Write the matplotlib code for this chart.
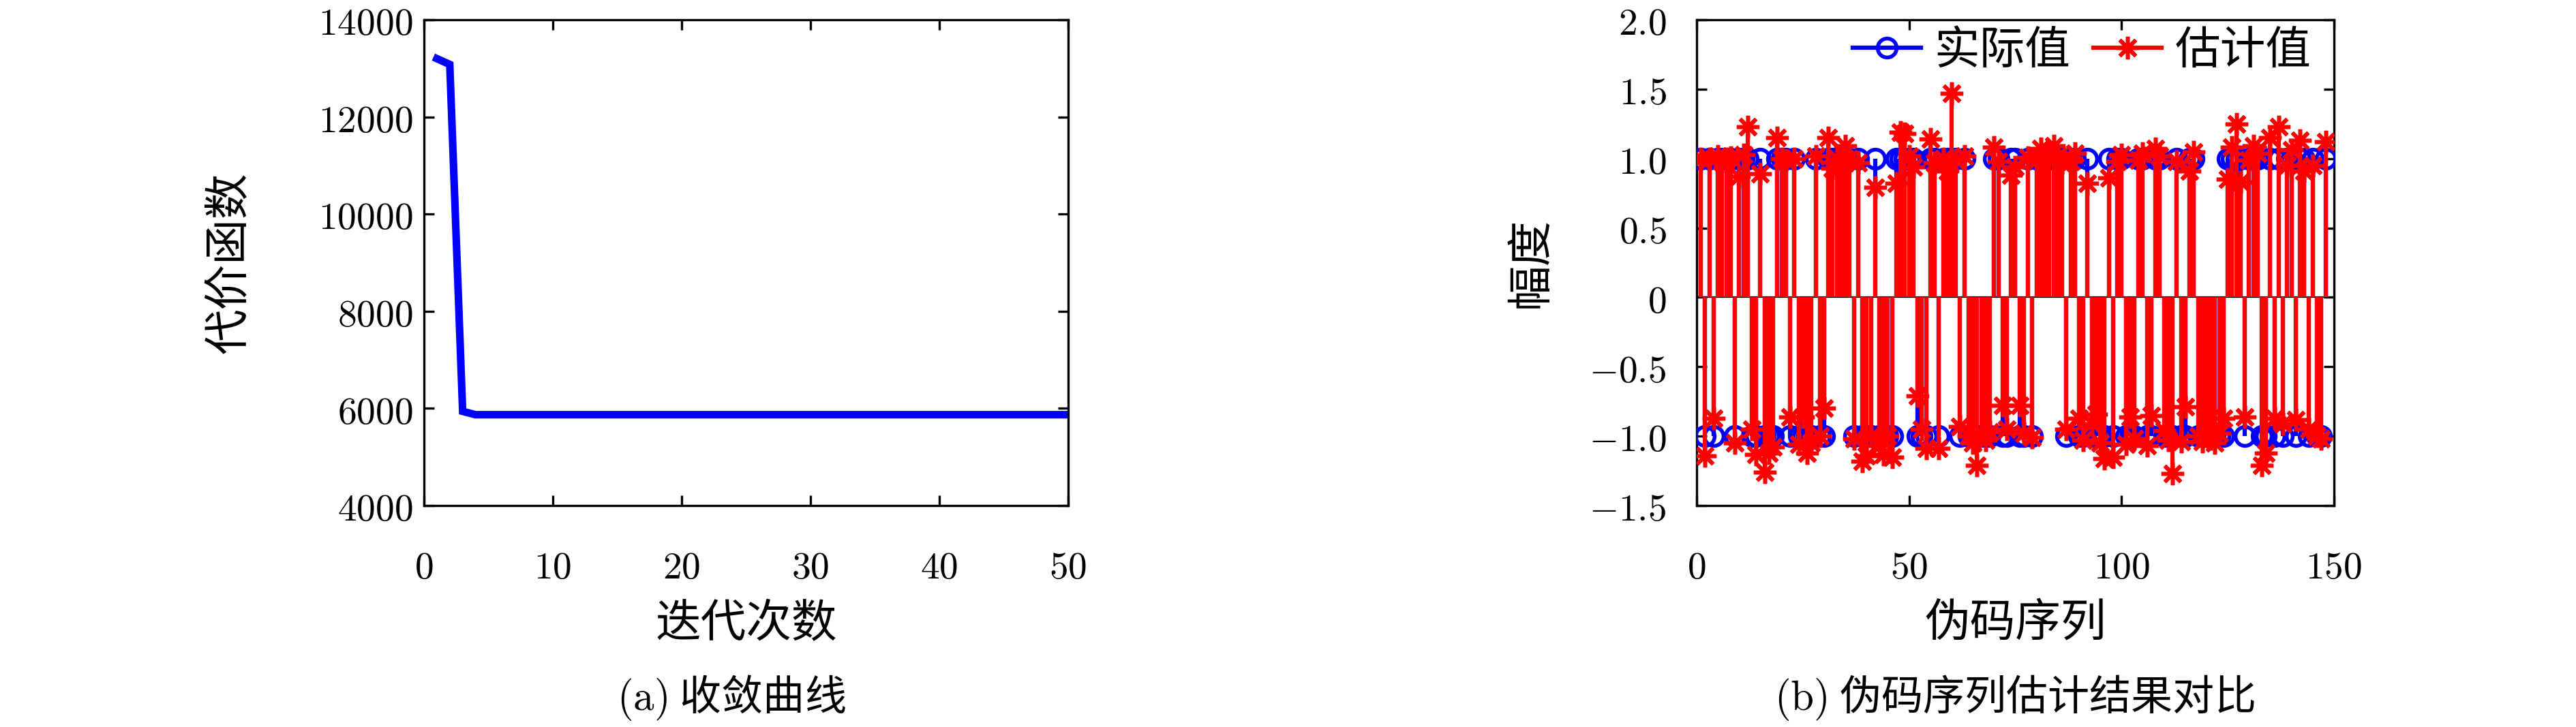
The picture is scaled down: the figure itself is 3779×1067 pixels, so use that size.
import matplotlib
matplotlib.use('Agg')
import matplotlib.pyplot as plt
from matplotlib.ticker import FixedLocator, FuncFormatter
from matplotlib.lines import Line2D

plt.rcParams['font.family'] = ['Noto Sans CJK SC', 'DejaVu Sans']
plt.rcParams['mathtext.fontset'] = 'cm'

# ---------------- data ----------------
iterations = list(range(1, 51))
cost = [13200, 13080, 5940, 5870, 5870, 5870, 5870, 5870, 5870, 5870,
        5870, 5870, 5870, 5870, 5870, 5870, 5870, 5870, 5870, 5870,
        5870, 5870, 5870, 5870, 5870, 5870, 5870, 5870, 5870, 5870,
        5870, 5870, 5870, 5870, 5870, 5870, 5870, 5870, 5870, 5870,
        5870, 5870, 5870, 5870, 5870, 5870, 5870, 5870, 5870, 5870]

seq_index = list(range(1, 149))
actual = [
    1, -1, 1, -1, 1, 1, 1, 1, -1, 1,
    1, 1, -1, -1, 1, -1, -1, -1, 1, 1,
    1, -1, 1, -1, -1, -1, -1, 1, -1, -1,
    1, 1, 1, 1, 1, 1, -1, 1, -1, -1,
    -1, 1, -1, -1, -1, -1, 1, 1, 1, 1,
    1, -1, -1, -1, 1, 1, -1, 1, 1, 1,
    1, -1, 1, -1, -1, -1, -1, -1, -1, 1,
    1, -1, -1, 1, 1, -1, -1, 1, -1, 1,
    1, 1, 1, 1, 1, 1, -1, 1, 1, -1,
    -1, 1, -1, -1, -1, -1, 1, -1, 1, 1,
    -1, -1, -1, 1, 1, -1, -1, 1, 1, -1,
    -1, -1, 1, -1, -1, 1, 1, -1, -1, -1,
    -1, -1, -1, -1, 1, 1, 1, 1, -1, 1,
    1, 1, -1, -1, 1, -1, 1, -1, 1, 1,
    -1, 1, 1, -1, 1, -1, -1, 1]
estimate = [
    1.00, -1.14, 1.00, -0.87, 1.02, 0.98, 1.00, 1.01, -1.05, 0.87,
    1.03, 1.23, -0.95, -1.13, 0.89, -1.26, -1.12, -1.08, 1.15, 1.00,
    0.99, -0.86, 1.00, -1.06, -0.86, -1.12, -1.05, 1.02, -1.00, -0.80,
    1.15, 0.93, 1.00, 0.95, 1.09, 1.00, -1.02, 0.97, -1.18, -1.14,
    -1.00, 0.79, -1.07, -1.13, -1.00, -1.15, 0.82, 1.19, 1.18, 1.02,
    0.94, -0.71, -0.95, -1.09, 1.14, 0.97, -1.09, 1.00, 0.91, 1.47,
    0.99, -0.93, 1.02, -1.00, -1.05, -1.21, -0.98, -1.03, -0.97, 1.08,
    0.98, -0.78, -0.95, 0.88, 0.94, -0.78, -0.98, 1.01, -1.01, 0.99,
    1.07, 1.03, 1.05, 1.09, 1.02, 0.97, -0.95, 0.98, 1.04, -0.87,
    -1.03, 0.82, -0.91, -0.84, -1.05, -1.16, 0.86, -1.15, 0.98, 1.03,
    -1.06, -0.86, -1.02, 0.99, 1.04, -1.07, -0.85, 1.07, 1.02, -0.96,
    -1.03, -1.27, 0.98, -1.04, -0.79, 0.91, 1.05, -1.00, -1.04, -0.97,
    -1.02, -1.05, -0.98, -0.87, 0.85, 1.08, 1.25, 0.83, -0.86, 0.99,
    1.09, 1.04, -1.21, -1.12, 1.15, -0.87, 1.23, -0.91, 0.95, 1.06,
    -0.88, 1.13, 0.91, -0.95, 0.95, -1.00, -1.02, 1.12]

cost_xticks = [0, 10, 20, 30, 40, 50]
cost_yticks = [4000, 6000, 8000, 10000, 12000, 14000]
seq_xticks = [0, 50, 100, 150]
seq_yticks = [-1.5, -1.0, -0.5, 0, 0.5, 1.0, 1.5, 2.0]

# ---------------- figure ----------------
W, H = 3780, 1067
fig = plt.figure(figsize=(W / 100, H / 100), dpi=100)

ax_top, ax_bot = 29, 742
ax_h = ax_bot - ax_top
left1, w1 = 622, 945
left2, w2 = 2489, 935

ax1 = fig.add_axes([left1 / W, 1 - ax_bot / H, w1 / W, ax_h / H])
ax2 = fig.add_axes([left2 / W, 1 - ax_bot / H, w2 / W, ax_h / H])

TICK_FS = 40
LABEL_FS = 48
CAP_FS = 44

def style_axes(ax, ypad):
    for s in ax.spines.values():
        s.set_linewidth(2.4)
    ax.tick_params(direction='in', top=True, right=True, length=11,
                   width=2.4, labelsize=TICK_FS)
    ax.tick_params(axis='x', pad=45)
    ax.tick_params(axis='y', pad=ypad)

# ---- left: convergence curve ----
ax1.plot(iterations, cost, color='#0000ff', lw=8.0, solid_joinstyle='miter')
ax1.set_xlim(0, 50)
ax1.set_ylim(4000, 14000)
ax1.xaxis.set_major_locator(FixedLocator(cost_xticks))
ax1.yaxis.set_major_locator(FixedLocator(cost_yticks))
ax1.xaxis.set_major_formatter(FuncFormatter(lambda v, p: f'${v:g}$'))
ax1.yaxis.set_major_formatter(FuncFormatter(lambda v, p: f'${v:g}$'))
style_axes(ax1, 12)
ax1.set_xlabel('迭代次数', fontsize=LABEL_FS, va='center')
ax1.xaxis.set_label_coords(0.5, (ax_bot - 916) / ax_h)
ax1.set_ylabel('代价函数', fontsize=LABEL_FS, va='center')
ax1.yaxis.set_label_coords((337 - left1) / w1, 0.5)

# ---- right: stem comparison ----
ax2.axhline(0, color='k', lw=1.6, zorder=1)
ml1, sl1, bl1 = ax2.stem(seq_index, actual, linefmt='-', markerfmt='o', basefmt=' ')
plt.setp(sl1, color='#0000ff', lw=4.5, zorder=2)
plt.setp(ml1, color='#0000ff', mfc='none', ms=20, mew=4.0, zorder=3)
ml2, sl2, bl2 = ax2.stem(seq_index, estimate, linefmt='-', markerfmt='o', basefmt=' ')
plt.setp(sl2, color='#ff0000', lw=4.5, zorder=4)
plt.setp(ml2, color='#ff0000', marker=(8, 2, 0), ms=24, mew=4.0, zorder=5)

ax2.set_xlim(0, 150)
ax2.set_ylim(-1.5, 2.0)
ax2.xaxis.set_major_locator(FixedLocator(seq_xticks))
ax2.yaxis.set_major_locator(FixedLocator(seq_yticks))
ax2.xaxis.set_major_formatter(FuncFormatter(lambda v, p: f'${v:g}$'))
ax2.yaxis.set_major_formatter(FuncFormatter(lambda v, p: '$0$' if abs(v) < 1e-9 else f'${v:.1f}$'))
style_axes(ax2, 32)
ax2.set_xlabel('伪码序列', fontsize=LABEL_FS, va='center')
ax2.xaxis.set_label_coords(0.5, (ax_bot - 916) / ax_h)
ax2.set_ylabel('幅度', fontsize=LABEL_FS, va='center')
ax2.yaxis.set_label_coords((2246 - left2) / w2, 0.5)

h1 = Line2D([], [], color='#0000ff', lw=4.5, marker='o', mfc='none', ms=20, mew=4.0)
h2 = Line2D([], [], color='#ff0000', lw=4.5, marker=(8, 2, 0), ms=24, mew=4.0)
leg = ax2.legend([h1, h2], ['实际值', '估计值'], ncol=2, frameon=False,
                 loc='upper right', bbox_to_anchor=(1.0, 1.03),
                 fontsize=LABEL_FS, handlelength=1.5, columnspacing=0.5,
                 handletextpad=0.3, borderaxespad=0.1)

# ---- captions ----
fig.text(1073 / W, 1 - 1024 / H, r'$(\mathrm{a})$ 收敛曲线', ha='center', va='center', fontsize=CAP_FS)
fig.text(2955 / W, 1 - 1024 / H, r'$(\mathrm{b})$ 伪码序列估计结果对比', ha='center', va='center', fontsize=CAP_FS)

fig.savefig('out.png', dpi=100)
